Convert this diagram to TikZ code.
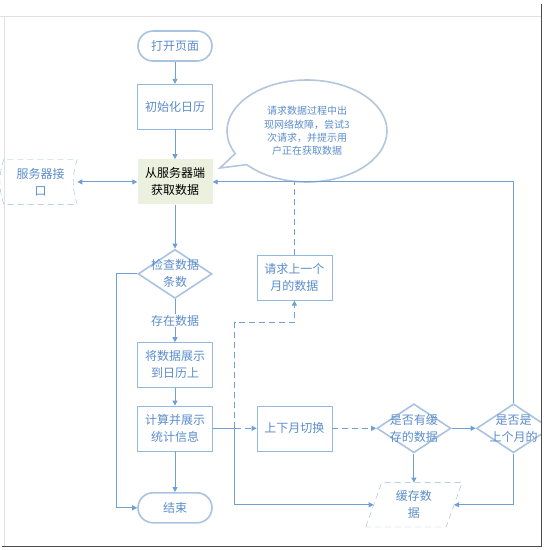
\documentclass[tikz,border=0pt]{standalone}
\usepackage{fontspec}
\setmainfont{Noto Sans CJK SC}
\usetikzlibrary{arrows.meta,positioning,shapes.geometric,shapes.callouts}
\definecolor{FlowLine}{HTML}{6F9FD5}
\definecolor{FlowEdge}{HTML}{95B8E3}
\definecolor{FlowBold}{HTML}{A9C3E3}
\definecolor{FlowText}{HTML}{5B8DCB}
\definecolor{FlowGreen}{HTML}{EBF1DE}
\definecolor{FlowNote}{HTML}{B4C6DC}
\begin{document}
\begin{tikzpicture}[x=1pt,y=-1pt, every node/.style={font=\fontsize{12}{17}\selectfont,text=FlowText,align=center}, box/.style={draw=FlowEdge,fill=white,minimum width=75pt,minimum height=45pt,inner sep=2pt}, term/.style={draw=FlowBold,line width=1.6pt,fill=white,rounded corners=15pt,minimum width=74pt,minimum height=30pt}, decision/.style={diamond,draw=FlowBold,line width=1.6pt,fill=white,minimum width=74pt,minimum height=49pt,inner sep=0pt}, note/.style={ellipse callout,draw=FlowNote,line width=1.6pt,fill=white,minimum width=160pt,minimum height=102pt,font=\fontsize{10}{13.4}\selectfont}, flow/.style={draw=FlowLine,line width=0.9pt,-{Triangle[length=5pt,width=5pt]}}, link/.style={draw=FlowLine,line width=0.9pt}, dashline/.style={dash pattern=on 6pt off 4pt}]
\useasboundingbox (0,0) rectangle (545,550);
% main column
\node[term] (open) at (175,46) {打开页面};
\node[box,below=22pt of open] (init) {初始化日历};
\node[box,below=30pt of init,draw=none,fill=FlowGreen,text=black] (fetch) {从服务器端\\获取数据};
\node[decision,below=44pt of fetch,label={center:{检查数据\\条数}}] (check) {};
\node[box,below=43pt of check] (show) {将数据展示\\到日历上};
\node[box,below=18pt of show] (calc) {计算并展示\\统计信息};
\node[term,below=41pt of calc] (end) {结束};
\node[left=60pt of fetch,minimum width=73pt,minimum height=45pt] (api) {服务器接\\口};
\draw[FlowEdge,dashline] (api.north west) to[bend right=18] (api.south west) -- (api.south east) to[bend left=18] (api.north east) -- cycle;
% month switching
\node[box,right=44pt of calc] (switch) {上下月切换};
\node[box,above=105pt of switch] (req) {请求上一个\\月的数据};
\node[decision,right=44pt of switch,label={center:{是否有缓\\存的数据}}] (cached) {};
\node[decision,right=24pt of cached,label={center:{是否是\\上个月的}}] (prev) {};
\node[below=29pt of cached,minimum width=80pt,minimum height=44pt] (cache) {缓存数\\据};
\draw[FlowEdge,dashline] ([xshift=-8pt]cache.south west) -- ([xshift=8pt]cache.north west) -- ([xshift=8pt]cache.north east) -- ([xshift=-8pt]cache.south east) -- cycle;
\coordinate (tip) at (220,168);
\node[note,callout absolute pointer={(tip)}] (hint) at (307,131) {请求数据过程中出\\现网络故障，尝试3\\次请求，并提示用\\户正在获取数据};
% connectors
\draw[flow] (open) -- (init);
\draw[flow] (init) -- (fetch);
\draw[flow,{Triangle[length=5pt,width=5pt]}-{Triangle[length=5pt,width=5pt]}] (api) -- (fetch);
\draw[flow] (fetch) -- (check);
\draw[flow] (check.south) -- node[fill=white,inner sep=1pt] {存在数据} (show.north);
\draw[flow] (check.west) -- ++(-21,0) |- (end.west);
\draw[flow] (show) -- (calc);
\draw[flow] (calc) -- (end);
\coordinate[right=22pt of calc.east] (split);
\draw[link] (calc.east) -- (split);
\draw[flow,dashline] (split) -- (switch.west);
\draw[flow,dashline] (split) |- ([yshift=-22pt]req.south) -- (req.south);
\draw[flow] (split) |- (cache.west);
\draw[link,dashline] (req.north) -- (req.north |- fetch.east);
\draw[flow,dashline] (switch.east) -- (cached.west);
\draw[flow] (cached.east) -- (prev.west);
\draw[flow] (cached.south) -- (cache.north);
\draw[flow] (prev.south) |- (cache.east);
\draw[flow] (prev.north) |- (fetch.east);
% frame
\fill[white] (542,0) rectangle (545,550);
\draw[black!12,line width=0.8pt] (0,16) -- (541,16) (4,16) -- (4,546);
\draw[black!70,line width=1.8pt] (541.5,4) -- (541.5,546.5) -- (2,546.5);
\end{tikzpicture}
\end{document}
